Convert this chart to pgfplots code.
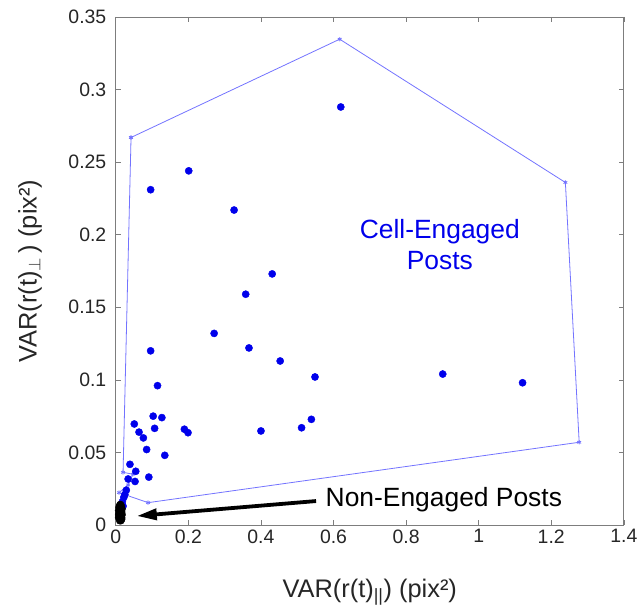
\documentclass[border=0pt]{standalone}
\usepackage{fontspec}
\setmainfont{Liberation Sans}
\usepackage{pgfplots}
\pgfplotsset{compat=1.18}
\usetikzlibrary{arrows.meta}
\definecolor{hull}{RGB}{115,115,255}
\definecolor{axgray}{RGB}{125,125,125}
\definecolor{txt}{RGB}{38,38,38}
\definecolor{dotblue}{RGB}{0,0,235}
\begin{document}
\begin{tikzpicture}
\begin{axis}[
  at={(0,0)}, anchor=south west,
  scale only axis, width=508bp, height=508bp,
  xmin=0, xmax=1.4, ymin=0, ymax=0.35,
  xtick={0,0.2,0.4,0.6,0.8,1,1.2,1.4},
  xticklabels={0,0.2,0.4,0.6,0.8,1,1.2,1.4},
  ytick={0,0.05,0.1,0.15,0.2,0.25,0.3,0.35},
  yticklabels={0,0.05,0.1,0.15,0.2,0.25,0.3,0.35},
  scaled ticks=false,
  /pgf/number format/assume math mode=true,
  tick align=inside,
  major tick length=5bp,
  tick style={axgray, line width=0.6bp},
  axis line style={axgray, line width=0.8bp},
  ticklabel style={font=\fontsize{19.5}{22}\selectfont, text=txt},
  yticklabel style={xshift=-6bp},
  xticklabel style={yshift=-1bp},
  label style={font=\fontsize{25.5}{30}\selectfont, text=txt},
  xlabel={VAR(r(t)\textsubscript{||}) (pix²)},
  ylabel={VAR(r(t)$_\perp$\,) (pix²)},
  xlabel style={at={(axis description cs:0.5,-0.1423)}, anchor=base},
  ylabel style={at={(axis description cs:-0.156,0.5)}, anchor=base},
  clip=false,
]
% convex hull of cell-engaged posts
\addplot[hull, line width=0.8bp, mark=asterisk, mark size=2.2bp, mark options={solid, line width=0.8bp}] coordinates {
 (0.042,0.267) (0.617,0.3347) (1.239,0.236) (1.277,0.057) (0.089,0.0154)
 (0.009,0.0223) (0.034,0.0276) (0.047,0.0350) (0.020,0.0363) (0.042,0.267)
};
% cell-engaged posts
\addplot[only marks, mark=*, mark size=3.6bp, draw=dotblue, fill=dotblue] coordinates {
 (0.620,0.288) (0.096,0.231) (0.201,0.244) (0.326,0.217) (0.431,0.173)
 (0.358,0.159) (0.271,0.132) (0.096,0.120) (0.367,0.122) (0.453,0.113)
 (0.549,0.102) (0.115,0.096) (0.901,0.104) (1.121,0.098) (0.051,0.0696)
 (0.064,0.064) (0.076,0.060) (0.085,0.052) (0.103,0.075) (0.127,0.074)
 (0.107,0.0666) (0.135,0.048) (0.091,0.033) (0.189,0.066) (0.199,0.0636)
 (0.400,0.0648) (0.512,0.067) (0.539,0.0728) (0.039,0.0418) (0.055,0.037)
 (0.034,0.0317) (0.053,0.030) (0.029,0.024) (0.022,0.019) (0.018,0.016)
 (0.025,0.021) (0.020,0.013)
};
% non-engaged posts
\addplot[only marks, mark=*, mark size=3.6bp, draw=black, fill=black] coordinates {
 (0.008,0.005) (0.010,0.006) (0.012,0.005) (0.009,0.008) (0.013,0.009)
 (0.011,0.011) (0.014,0.012) (0.010,0.013) (0.015,0.010) (0.014,0.006)
 (0.016,0.008) (0.012,0.004) (0.016,0.005) (0.008,0.010) (0.013,0.014)
 (0.011,0.003) (0.015,0.013) (0.017,0.011) (0.009,0.012) (0.012,0.007)
 (0.016,0.004) (0.010,0.009) (0.014,0.003) (0.012,0.014) (0.017,0.007)
 (0.008,0.007) (0.013,0.010) (0.016,0.009)
};
\draw[black, line width=3.8bp, -{Triangle[length=20bp,width=11bp]}]
  (axis cs:0.552,0.0165) -- (axis cs:0.058,0.0062);
\node[anchor=base west, inner sep=0pt, text=black, font=\fontsize{26.5}{30}\selectfont]
  at (axis cs:0.578,0.0126) {Non-Engaged Posts};
\node[anchor=base, inner sep=0pt, text=dotblue, font=\fontsize{26.5}{30}\selectfont]
  at (axis cs:0.893,0.1976) {Cell-Engaged};
\node[anchor=base, inner sep=0pt, text=dotblue, font=\fontsize{26.5}{30}\selectfont]
  at (axis cs:0.893,0.1757) {Posts};
\end{axis}
\pgfresetboundingbox
\useasboundingbox (-115.8bp,-84bp) rectangle (522.2bp,525bp);
\end{tikzpicture}
\end{document}
